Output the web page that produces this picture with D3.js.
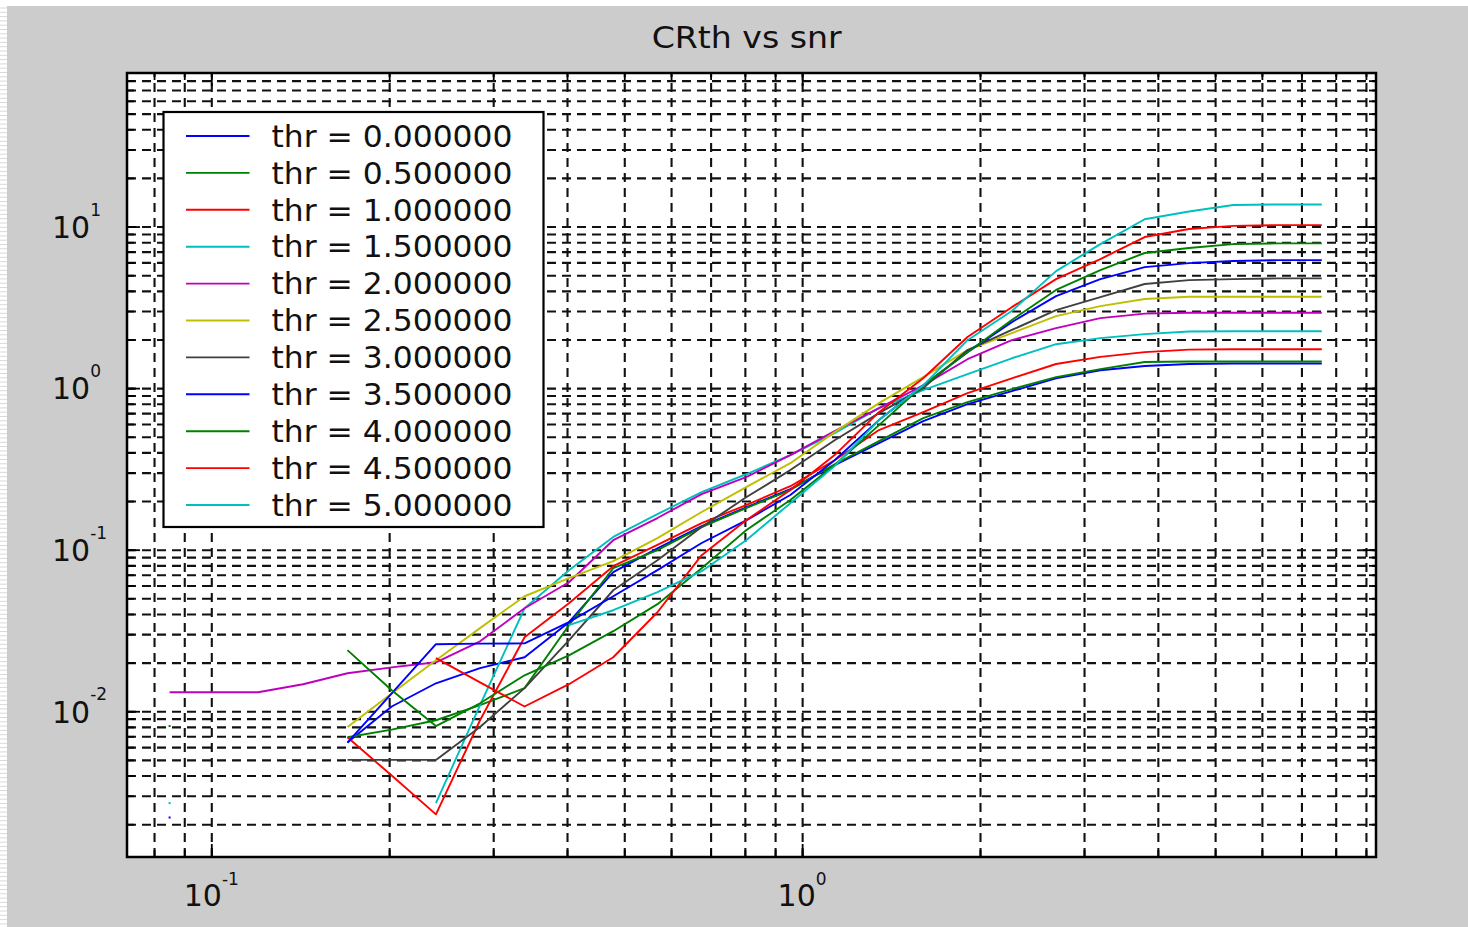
<!DOCTYPE html>
<html>
<head>
<meta charset="utf-8">
<script src="https://cdn.jsdelivr.net/npm/d3@7"></script>
<style>
body { margin: 0; background: #fff; }
svg { display: block; }
text { font-family: "DejaVu Sans", sans-serif; fill: #111; }
</style>
</head>
<body>
<div id="chart"></div>
<script>
// snr samples (x axis)
var snr = [0.085, 0.101, 0.120, 0.143, 0.170, 0.202, 0.240, 0.285, 0.339, 0.403, 0.479, 0.569, 0.676,
        0.804, 0.955, 1.135, 1.349, 1.603, 1.905, 2.264, 2.690, 3.197, 3.800, 4.515, 5.365, 6.376, 7.577];

// thresholds, one curve each
var thr = [0, 0.5, 1.0, 1.5, 2.0, 2.5, 3.0, 3.5, 4.0, 4.5, 5.0];

// CRth for every threshold (null = not plotted)
var crth0 = [null, null, null, null, 0.0064, 0.0107, 0.0149, 0.0185, 0.0216, 0.0356, 0.0726, 0.102, 0.140,
        0.183, 0.237, 0.334, 0.456, 0.625, 0.796, 0.958, 1.15, 1.29, 1.37, 1.41, 1.42, 1.42, 1.42];
var crth05 = [null, null, null, null, 0.0069, 0.0077, 0.0088, 0.0109, 0.0139, 0.0341, 0.0768, 0.0993, 0.138,
        0.181, 0.234, 0.338, 0.470, 0.652, 0.819, 0.986, 1.17, 1.31, 1.45, 1.46, 1.46, 1.46, 1.46];
var crth10 = [null, null, null, null, 0.0069, 0.0040, 0.0023, 0.0088, 0.0287, 0.0466, 0.079, 0.107, 0.146,
        0.189, 0.247, 0.358, 0.550, 0.710, 0.931, 1.15, 1.41, 1.56, 1.67, 1.73, 1.74, 1.74, 1.74];
var crth15 = [null, null, null, null, null, null, 0.0027, 0.0109, 0.0434, 0.0747, 0.120, 0.166, 0.227,
        0.293, 0.385, 0.527, 0.752, 0.972, 1.22, 1.53, 1.87, 2.04, 2.16, 2.24, 2.25, 2.25, 2.25];
var crth20 = [0.0131, 0.0131, 0.0131, 0.0147, 0.0172, 0.0187, 0.0201, 0.0271, 0.0434, 0.0629, 0.1145, 0.157, 0.221,
        0.281, 0.385, 0.542, 0.752, 1.04, 1.51, 1.98, 2.35, 2.71, 2.89, 2.93, 2.93, 2.93, 2.93];
var crth25 = [null, null, null, null, 0.0080, 0.0129, 0.0207, 0.0327, 0.0515, 0.0666, 0.0849, 0.118, 0.171,
        0.244, 0.343, 0.534, 0.807, 1.17, 1.72, 2.19, 2.79, 3.22, 3.56, 3.68, 3.68, 3.68, 3.68];
var crth30 = [null, null, null, null, 0.0050, 0.0050, 0.0050, 0.0080, 0.0139, 0.0275, 0.0561, 0.0861, 0.138,
        0.211, 0.311, 0.476, 0.700, 1.00, 1.72, 2.29, 3.04, 3.66, 4.41, 4.66, 4.73, 4.78, 4.78];
var crth35 = [0.0022, null, null, null, 0.0064, 0.0129, 0.0260, 0.0262, 0.0263, 0.0356, 0.0515, 0.0747, 0.110,
        0.152, 0.218, 0.358, 0.634, 1.04, 1.67, 2.56, 3.71, 4.73, 5.61, 5.94, 6.12, 6.20, 6.20];
var crth40 = [0.0081, null, null, null, 0.0239, 0.0135, 0.0081, 0.0112, 0.0167, 0.0222, 0.0313, 0.0460, 0.0768,
        0.132, 0.203, 0.334, 0.590, 1.04, 1.67, 2.64, 4.05, 5.38, 6.86, 7.36, 7.79, 7.87, 7.87];
var crth45 = [null, null, null, null, null, null, 0.0213, 0.0151, 0.0107, 0.0147, 0.0216, 0.0410, 0.0925,
        0.152, 0.234, 0.385, 0.710, 1.15, 2.07, 3.17, 4.73, 6.29, 8.61, 9.65, 10.1, 10.2, 10.2];
var crth50 = [0.0027, null, null, null, null, null, null, null, null, 0.0341, 0.0422, 0.0546, 0.0736,
        0.1145, 0.194, 0.329, 0.634, 1.04, 1.98, 3.00, 5.30, 7.79, 11.1, 12.4, 13.6, 13.7, 13.7];

var series = [crth0, crth05, crth10, crth15, crth20, crth25, crth30, crth35, crth40, crth45, crth50];

// matlab colour order
var lineColors = ["#0000ff", "#008000", "#ff0000", "#00bfbf", "#bf00bf", "#bfbf00", "#404040",
        "#0000ff", "#008000", "#ff0000", "#00bfbf"];

var xMajor = [0.1, 1];
var xMajorExp = ["-1", "0"];
var yMajor = [0.01, 0.1, 1, 10];
var yMajorExp = ["-2", "-1", "0", "1"];

var margin = { top: 73, left: 127 },
        width = 1249,
        height = 784;

var x = d3.scaleLog()
        .domain([0.0720, 9.36])
        .range([0, width]);

var y = d3.scaleLog()
        .domain([0.001253, 89.2])
        .range([height, 0]);

var svg = d3.select("#chart").append("svg")
        .attr("width", 1468)
        .attr("height", 927);

// window background
svg.append("rect")
        .attr("x", 7).attr("y", 6)
        .attr("width", 1461).attr("height", 921)
        .attr("fill", "#cccccc");

svg.append("g").selectAll("line")
        .data(d3.range(8, 927, 4.3))
        .enter().append("line")
        .attr("x1", 0).attr("x2", 7)
        .attr("y1", function (d) { return d; })
        .attr("y2", function (d) { return d; })
        .attr("stroke", "#d9d9d9");

var g = svg.append("g")
        .attr("transform", "translate(" + margin.left + "," + margin.top + ")");

g.append("rect")
        .attr("width", width)
        .attr("height", height)
        .attr("fill", "#fff");

// dashed log grid
var gridX = g.append("g")
        .attr("transform", "translate(0," + height + ")")
        .call(d3.axisBottom(x).tickValues(x.ticks()).tickSize(-height).tickFormat(""));
var gridY = g.append("g")
        .call(d3.axisLeft(y).tickValues(y.ticks()).tickSize(-width).tickFormat(""));

[gridX, gridY].forEach(function (grid) {
        grid.select(".domain").remove();
        grid.selectAll(".tick line")
                .attr("stroke", "#111")
                .attr("stroke-width", 2.1)
                .attr("stroke-dasharray", "9,6");
});

// inward ticks on all four sides
function ticks(axis, tx, ty, vals, size) {
        var a = g.append("g")
                .attr("transform", "translate(" + tx + "," + ty + ")")
                .call(axis.tickValues(vals).tickSize(-size).tickFormat(""));
        a.select(".domain").remove();
        a.selectAll(".tick line").attr("stroke", "#000").attr("stroke-width", 1.8);
}
ticks(d3.axisBottom(x), 0, height, x.ticks(), 7);
ticks(d3.axisTop(x), 0, 0, x.ticks(), 7);
ticks(d3.axisLeft(y), 0, 0, y.ticks(), 7);
ticks(d3.axisRight(y), width, 0, y.ticks(), 7);
ticks(d3.axisBottom(x), 0, height, xMajor, 13);
ticks(d3.axisTop(x), 0, 0, xMajor, 13);
ticks(d3.axisLeft(y), 0, 0, yMajor, 13);
ticks(d3.axisRight(y), width, 0, yMajor, 13);

// curves
var line = d3.line()
        .defined(function (d) { return d != null; })
        .x(function (d, i) { return x(snr[i]); })
        .y(function (d) { return y(d); });

series.forEach(function (s, k) {
        g.append("path")
                .datum(s)
                .attr("d", line)
                .attr("fill", "none")
                .attr("stroke", lineColors[k])
                .attr("stroke-width", 1.9)
                .attr("stroke-linejoin", "round");

        // lone samples show up as a dot
        var lone = s.map(function (v, i) {
                return (v != null && (i == 0 || s[i - 1] == null) && (i == s.length - 1 || s[i + 1] == null)) ? i : -1;
        }).filter(function (i) { return i >= 0; });

        g.selectAll(null)
                .data(lone)
                .enter().append("rect")
                .attr("x", function (i) { return x(snr[i]) - 1; })
                .attr("y", function (i) { return y(s[i]) - 1; })
                .attr("width", 2)
                .attr("height", 2)
                .attr("fill", lineColors[k]);
});

// plot box
g.append("rect")
        .attr("width", width)
        .attr("height", height)
        .attr("fill", "none")
        .attr("stroke", "#000")
        .attr("stroke-width", 2.5);

// tick labels 10^n
xMajor.forEach(function (v, i) {
        var t = svg.append("text")
                .attr("x", margin.left + x(v))
                .attr("y", 905.5)
                .attr("text-anchor", "middle")
                .style("font-size", "30px");
        t.append("tspan").text("10");
        t.append("tspan").attr("dy", -20.5).style("font-size", "17px").text(xMajorExp[i]);
});

yMajor.forEach(function (v, i) {
        var t = svg.append("text")
                .attr("x", 52)
                .attr("y", margin.top + y(v) + 11.3)
                .style("font-size", "30px");
        t.append("tspan").text("10");
        t.append("tspan").attr("dy", -22.3).style("font-size", "17px").text(yMajorExp[i]);
});

// title
svg.append("text")
        .attr("x", 746.7)
        .attr("y", 48.3)
        .attr("text-anchor", "middle")
        .attr("textLength", 190)
        .attr("lengthAdjust", "spacingAndGlyphs")
        .style("font-size", "30px")
        .text("CRth vs snr");

// legend
var legend = svg.append("g")
        .attr("transform", "translate(163.5,112)");

legend.append("rect")
        .attr("width", 380)
        .attr("height", 415)
        .attr("fill", "#fff")
        .attr("stroke", "#000")
        .attr("stroke-width", 2.2);

var row = legend.selectAll(".row")
        .data(thr)
        .enter().append("g")
        .attr("class", "row")
        .attr("transform", function (d, i) { return "translate(0," + (24 + i * 36.9) + ")"; });

row.append("line")
        .attr("x1", 22.5)
        .attr("x2", 86)
        .attr("stroke", function (d, i) { return lineColors[i]; })
        .attr("stroke-width", 1.9);

row.append("text")
        .attr("x", 108)
        .attr("y", 10.7)
        .attr("textLength", 241)
        .attr("lengthAdjust", "spacingAndGlyphs")
        .style("font-size", "30px")
        .text(function (d) { return "thr = " + d.toFixed(6); });
</script>
</body>
</html>
